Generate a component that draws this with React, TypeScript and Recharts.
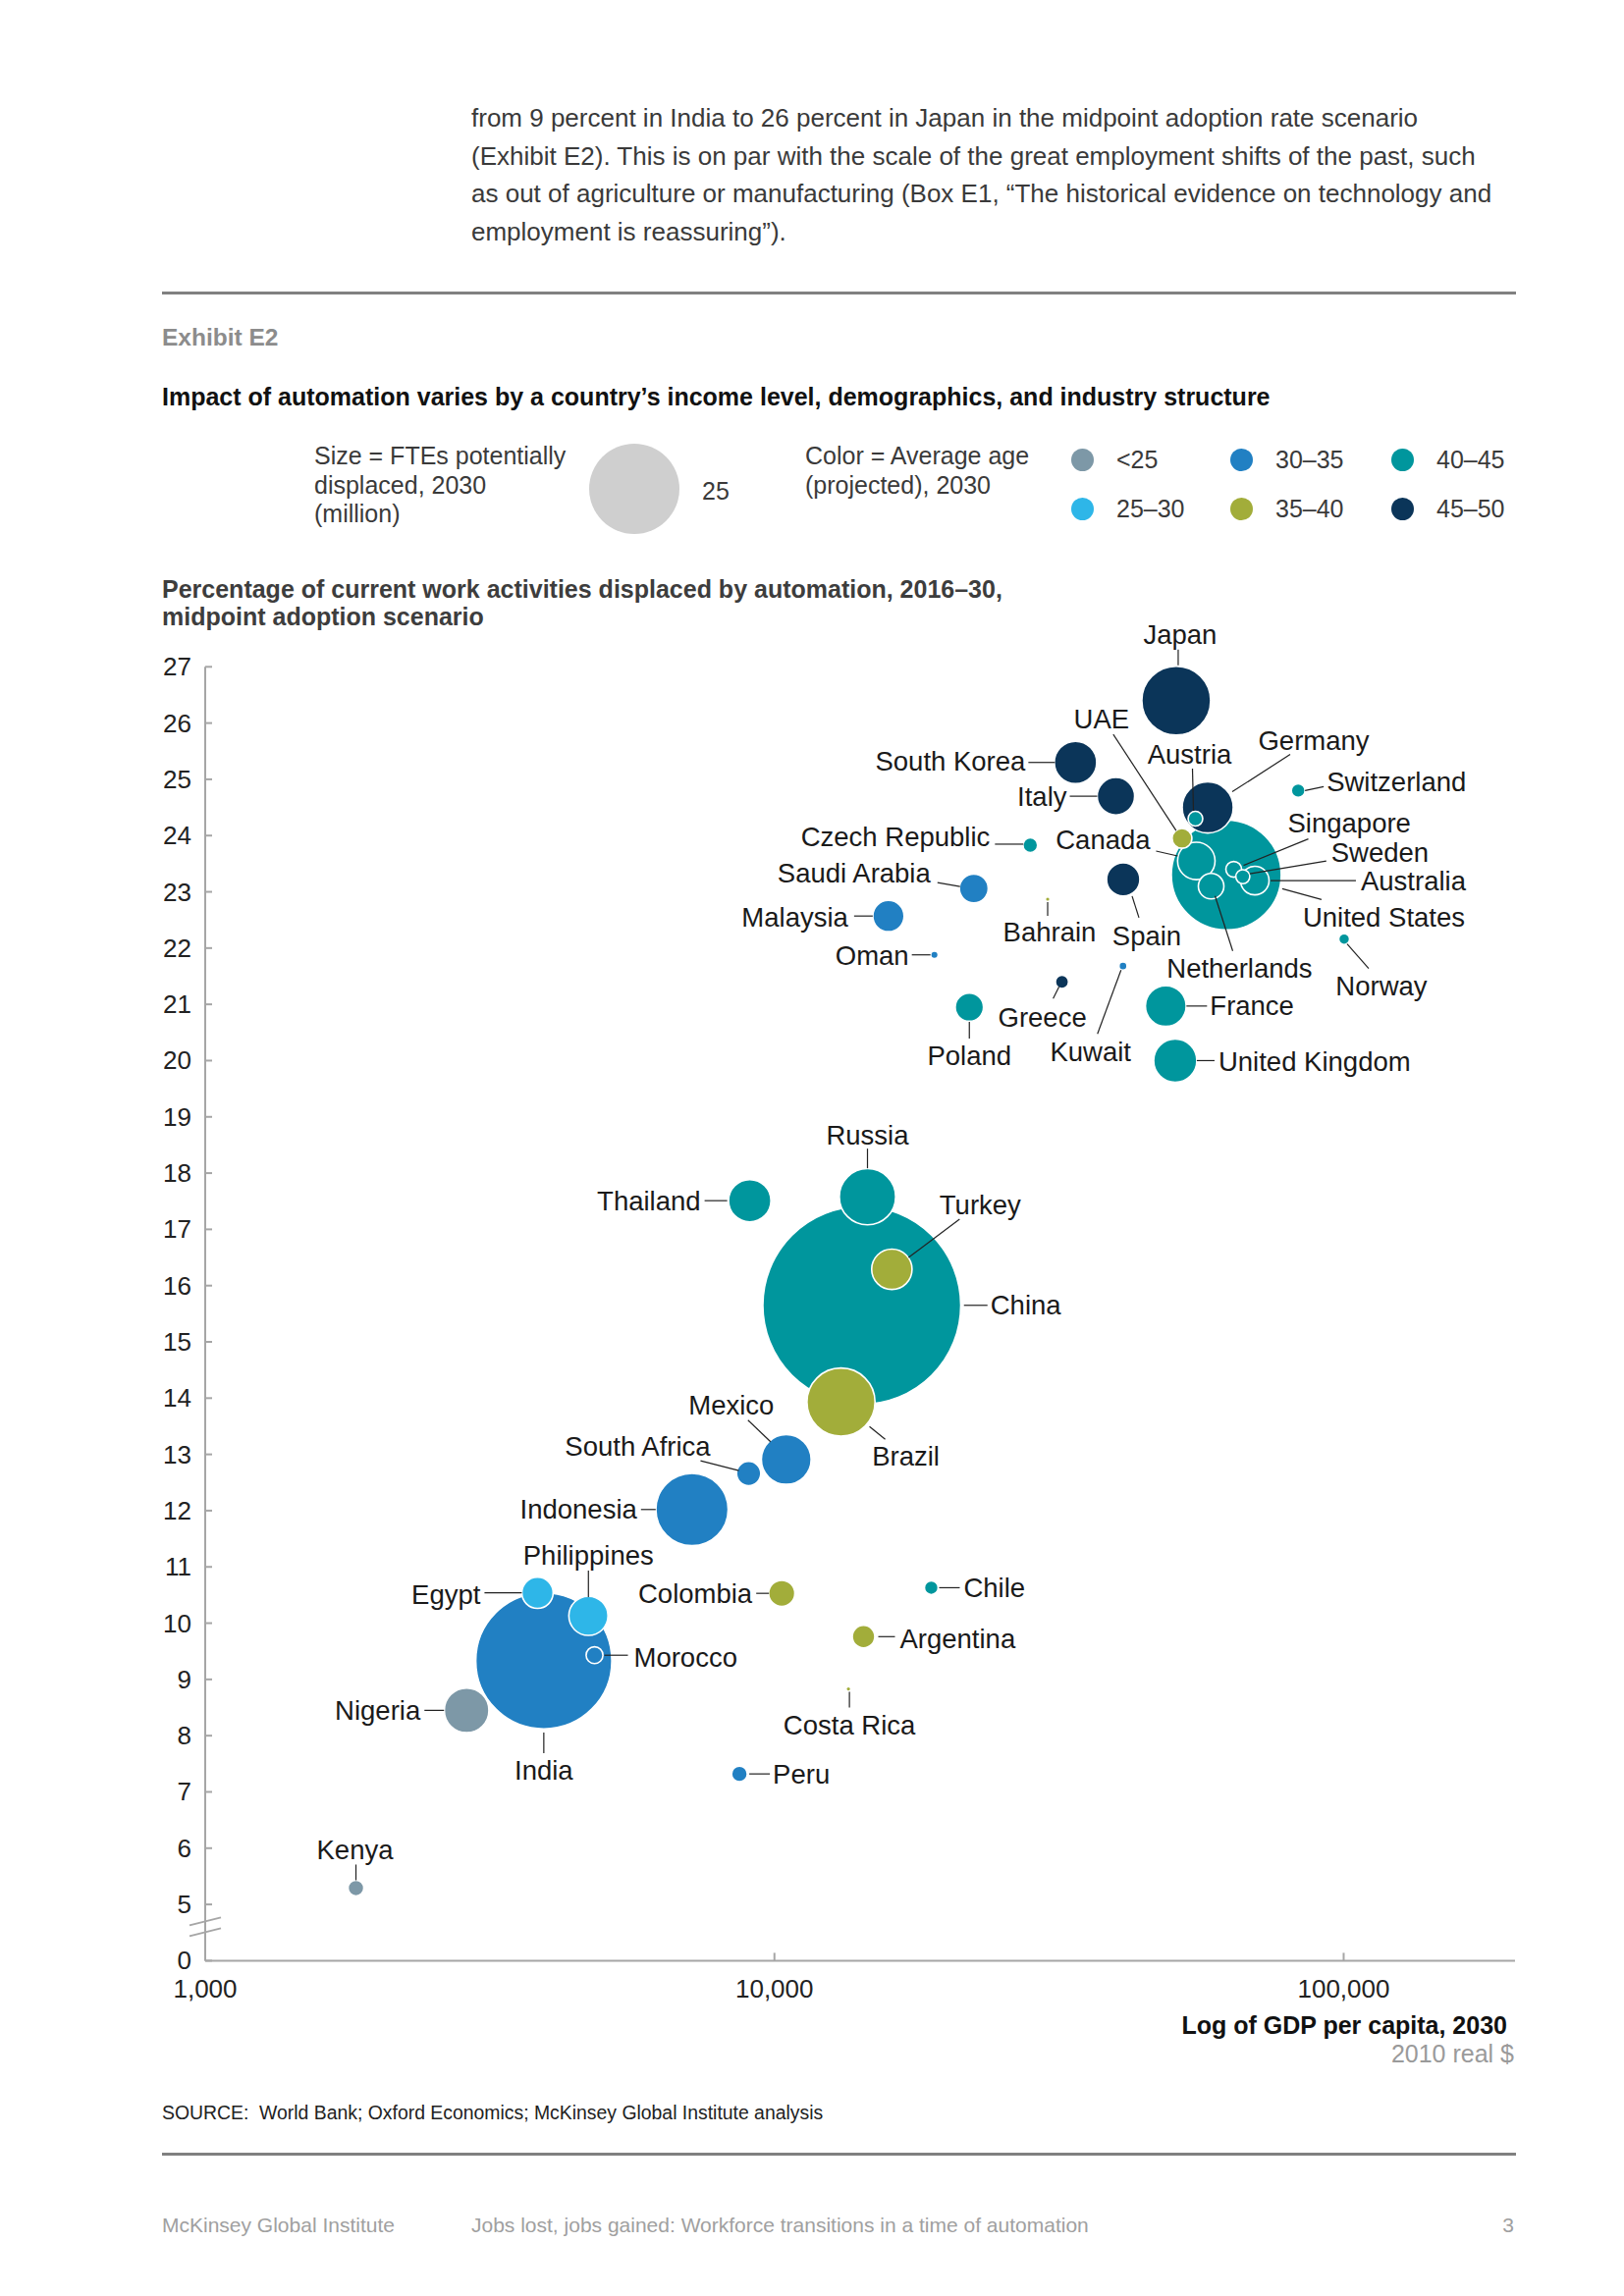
import React from 'react';
import { ScatterChart, Scatter, XAxis, YAxis, ZAxis } from 'recharts';

const COUNTRIES = [
  'Japan', 'South Korea', 'Italy', 'Germany', 'Austria', 'UAE', 'United States', 'Canada',
  'Netherlands', 'Singapore', 'Sweden', 'Australia', 'Switzerland', 'Czech Republic',
  'Saudi Arabia', 'Malaysia', 'Bahrain', 'Spain', 'Oman', 'Greece', 'Kuwait', 'Norway',
  'Poland', 'France', 'United Kingdom', 'Thailand', 'Russia', 'China', 'Turkey', 'Brazil',
  'Mexico', 'South Africa', 'Indonesia', 'Egypt', 'Philippines', 'India', 'Morocco',
  'Nigeria', 'Kenya', 'Colombia', 'Chile', 'Argentina', 'Costa Rica', 'Peru',
];

// GDP per capita 2030, 2010 real $
const GDP_PER_CAPITA = [
  50800, 33800, 39800, 57700, 54900, 52000, 62200, 55100,
  58500, 64100, 66500, 69800, 83200, 28150,
  22400, 15860, 30200, 41000, 19100, 32000, 40960, 100200,
  22000, 48700, 50600, 9050, 14570, 14240, 16080, 13090,
  10490, 9010, 7165, 3835, 4712, 3934, 4830,
  2879, 1840, 10300, 18860, 14340, 13490, 8680,
];

// % of current work activities displaced, 2016-30
const DISPLACED_PCT = [
  26.4, 25.3, 24.7, 24.5, 24.3, 23.95, 23.3, 23.55,
  23.1, 23.4, 23.27, 23.2, 24.8, 23.83,
  23.06, 22.57, 22.87, 23.22, 21.88, 21.4, 21.68, 22.16,
  20.95, 20.97, 20.0, 17.51, 17.58, 15.65, 16.29, 13.93,
  12.91, 12.66, 12.02, 10.54, 10.13, 9.33, 9.43,
  8.45, 5.29, 10.53, 10.63, 9.76, 8.83, 7.32,
];

// FTEs potentially displaced, 2030 (million)
const FTES_MILLION = [
  14.5, 5.5, 4.3, 8.0, 0.66, 1.2, 37, 4.3,
  2.0, 0.76, 0.6, 2.5, 0.58, 0.66,
  2.55, 3.0, 0.03, 3.4, 0.11, 0.53, 0.2, 0.36,
  2.45, 5.1, 5.7, 5.5, 9.7, 120, 5.0, 14.2,
  7.6, 1.8, 16.0, 3.0, 4.7, 56.7, 0.87,
  6.1, 0.76, 2.1, 0.58, 1.56, 0.03, 0.76,
];

// average age band (projected), 2030
const AVG_AGE = [
  '45–50', '45–50', '45–50', '45–50', '40–45', '35–40', '40–45', '40–45',
  '40–45', '40–45', '40–45', '40–45', '40–45', '40–45',
  '30–35', '30–35', '35–40', '45–50', '30–35', '45–50', '30–35', '40–45',
  '40–45', '40–45', '40–45', '40–45', '40–45', '40–45', '35–40', '35–40',
  '30–35', '30–35', '30–35', '25–30', '25–30', '30–35', '30–35',
  '<25', '<25', '35–40', '40–45', '35–40', '35–40', '30–35',
];

const LEGEND_BAND_ORDER = ['<25', '30–35', '40–45', '25–30', '35–40', '45–50'];
const LEGEND_SIZE = 25;

const X_TICKS = [1000, 10000, 100000];
const Y_TICKS = [4, 5, 6, 7, 8, 9, 10, 11, 12, 13, 14, 15, 16, 17, 18, 19, 20, 21, 22, 23, 24, 25, 26, 27];
const Y_TICK_LABELS: Record<number, string> = { 4: '0' };

// ---- styling ----
const AGE_COLORS: Record<string, string> = {
  '<25': '#7D98A7',
  '25–30': '#2EB6E8',
  '30–35': '#2180C3',
  '35–40': '#A2AD3A',
  '40–45': '#00969D',
  '45–50': '#0B3559',
};
const AXIS = '#A6A6A6';
const FONT = '"Liberation Sans", Arial, Helvetica, sans-serif';
const LEGEND_R = 46; // px radius of the 25 million legend bubble
const AREA_PER_MILLION = (Math.PI * LEGEND_R * LEGEND_R) / LEGEND_SIZE;

// label placement relative to bubble centre: anchor, text x/y, leader line
type Lay = { a: 'start' | 'middle' | 'end'; tx: number; ty: number; l?: [number, number, number, number] };
const LABEL_LAYOUT: Record<string, Lay> = {
  Japan: { a: 'middle', tx: 4, ty: -67, l: [2, -52, 2, -36] },
  UAE: { a: 'middle', tx: -82, ty: -122, l: [-70, -106, -6, -8] },
  'South Korea': { a: 'end', tx: -51, ty: -1, l: [-48, 0, -21, 0] },
  Italy: { a: 'end', tx: -50, ty: 0, l: [-47, 0, -19, 0] },
  Austria: { a: 'middle', tx: -6, ty: -66, l: [-3, -51, -2, -8] },
  Germany: { a: 'middle', tx: 108, ty: -68, l: [84, -54, 25, -16] },
  Switzerland: { a: 'start', tx: 29, ty: -9, l: [7, 0, 26, -4] },
  'Czech Republic': { a: 'end', tx: -41, ty: -8, l: [-36, -1, -7, -1] },
  Canada: { a: 'middle', tx: -95, ty: -22, l: [-41, -10, -19, -5] },
  'Saudi Arabia': { a: 'end', tx: -44, ty: -16, l: [-37, -6, -14, -2] },
  Malaysia: { a: 'end', tx: -41, ty: 1, l: [-35, 0, -16, 0] },
  Bahrain: { a: 'middle', tx: 2, ty: 34, l: [0, 3, 0, 17] },
  Spain: { a: 'middle', tx: 24, ty: 58, l: [9, 17, 16, 39] },
  'United States': { a: 'start', tx: 78, ty: 43, l: [57, 14, 97, 25] },
  Netherlands: { a: 'middle', tx: 29, ty: 84, l: [4, 10, 22, 66] },
  Singapore: { a: 'start', tx: 55, ty: -47, l: [76, -31, 10, -4] },
  Sweden: { a: 'start', tx: 90, ty: -25, l: [85, -16, 7, -3] },
  Australia: { a: 'start', tx: 108, ty: 0, l: [16, 0, 103, 0] },
  Norway: { a: 'middle', tx: 38, ty: 48, l: [3, 5, 25, 30] },
  Oman: { a: 'end', tx: -26, ty: 1, l: [-23, 0, -4, 0] },
  Greece: { a: 'middle', tx: -20, ty: 36, l: [-3, 5, -9, 17] },
  Kuwait: { a: 'middle', tx: -33, ty: 87, l: [-2, 4, -26, 69] },
  Poland: { a: 'middle', tx: 0, ty: 49, l: [0, 15, 0, 32] },
  France: { a: 'start', tx: 45, ty: 0, l: [21, 0, 42, 0] },
  'United Kingdom': { a: 'start', tx: 44, ty: 1, l: [22, 0, 40, 0] },
  Thailand: { a: 'end', tx: -50, ty: 0, l: [-46, 0, -23, 0] },
  Russia: { a: 'middle', tx: 0, ty: -63, l: [0, -49, 0, -29] },
  Turkey: { a: 'middle', tx: 90, ty: -66, l: [69, -51, 17, -12] },
  China: { a: 'start', tx: 131, ty: 0, l: [104, 0, 128, 0] },
  Brazil: { a: 'middle', tx: 66, ty: 55, l: [29, 25, 45, 38] },
  Mexico: { a: 'middle', tx: -56, ty: -55, l: [-39, -40, -16, -18] },
  'South Africa': { a: 'middle', tx: -113, ty: -28, l: [-49, -13, -10, -3] },
  Indonesia: { a: 'end', tx: -56, ty: 0, l: [-52, 0, -37, 0] },
  Philippines: { a: 'middle', tx: 0, ty: -62, l: [0, -46, 0, -19] },
  Egypt: { a: 'end', tx: -58, ty: 2, l: [-54, 0, -16, 0] },
  Morocco: { a: 'start', tx: 40, ty: 2, l: [10, 0, 34, 0] },
  Nigeria: { a: 'end', tx: -47, ty: 0, l: [-43, 0, -23, 0] },
  India: { a: 'middle', tx: 0, ty: 112, l: [0, 73, 0, 94] },
  Kenya: { a: 'middle', tx: -1, ty: -39, l: [0, -24, 0, -8] },
  Colombia: { a: 'end', tx: -30, ty: 0, l: [-26, 0, -13, 0] },
  Chile: { a: 'start', tx: 33, ty: 0, l: [8, 0, 29, 0] },
  Argentina: { a: 'start', tx: 37, ty: 2, l: [15, 0, 32, 0] },
  'Costa Rica': { a: 'middle', tx: 1, ty: 37, l: [1, 3, 1, 19] },
  Peru: { a: 'start', tx: 34, ty: 0, l: [10, 0, 31, 0] },
};

const rows = COUNTRIES.map((name, i) => ({
  name,
  gdp: GDP_PER_CAPITA[i],
  pct: DISPLACED_PCT[i],
  fte: FTES_MILLION[i],
  age: AVG_AGE[i],
})).sort((a, b) => b.fte - a.fte); // big bubbles underneath

const Bubble = (props: any) => {
  const { cx, cy, size, width, payload } = props;
  const r = width ? width / 2 : Math.sqrt(Math.max(size || 0, 0) / Math.PI);
  return (
    <circle
      cx={cx}
      cy={cy}
      r={Math.max(r, 1.4)}
      fill={AGE_COLORS[payload.age]}
      stroke={r > 4 ? '#fff' : 'none'}
      strokeWidth={1.6}
    />
  );
};

const CountryLabel = (props: any) => {
  const { cx, cy, payload } = props;
  const lay = LABEL_LAYOUT[payload.name];
  if (!lay) return <g />;
  return (
    <g>
      {lay.l && (
        <line
          x1={cx + lay.l[0]}
          y1={cy + lay.l[1]}
          x2={cx + lay.l[2]}
          y2={cy + lay.l[3]}
          stroke="#222"
          strokeWidth={1.2}
        />
      )}
      <text
        x={cx + lay.tx}
        y={cy + lay.ty}
        textAnchor={lay.a}
        dominantBaseline="central"
        fontFamily={FONT}
        fontSize={27.5}
        fill="#1a1a1a"
      >
        {payload.name}
      </text>
    </g>
  );
};

const YTick = (props: any) => {
  const { x, y, payload } = props;
  const v = payload.value;
  const label = Y_TICK_LABELS[v] ?? String(v);
  return (
    <g>
      <line x1={x} y1={y} x2={x + 7} y2={y} stroke={AXIS} strokeWidth={2} />
      <text x={x - 14} y={y} textAnchor="end" dominantBaseline="central" fontFamily={FONT} fontSize={26} fill="#222">
        {label}
      </text>
      {v === 4 && (
        <g stroke={AXIS} strokeWidth={2}>
          <line x1={x - 16} y1={y - 36} x2={x + 16} y2={y - 44} />
          <line x1={x - 16} y1={y - 25} x2={x + 16} y2={y - 33} />
        </g>
      )}
    </g>
  );
};

const XTick = (props: any) => {
  const { x, y, payload } = props;
  return (
    <g>
      <line x1={x} y1={y} x2={x} y2={y - 8} stroke={AXIS} strokeWidth={2} />
      <text x={x} y={y + 29} textAnchor="middle" dominantBaseline="central" fontFamily={FONT} fontSize={26} fill="#222">
        {Number(payload.value).toLocaleString('en-US')}
      </text>
    </g>
  );
};

type TxtProps = {
  x: number;
  y: number;
  size: number;
  children: React.ReactNode;
  color?: string;
  bold?: boolean;
  align?: 'left' | 'right';
};
const Txt = ({ x, y, size, children, color = '#3a3a3a', bold, align = 'left' }: TxtProps) => (
  <div
    style={{
      position: 'absolute',
      top: y,
      ...(align === 'right' ? { right: 1654 - x, textAlign: 'right' } : { left: x }),
      transform: 'translateY(-50%)',
      fontSize: size,
      lineHeight: 1.15,
      fontWeight: bold ? 700 : 400,
      color,
      whiteSpace: 'nowrap',
    }}
  >
    {children}
  </div>
);

const Rule = ({ y }: { y: number }) => (
  <div style={{ position: 'absolute', left: 165, top: y - 1.5, width: 1379, height: 3, background: '#808080' }} />
);

const Dot = ({ x, y, r, color }: { x: number; y: number; r: number; color: string }) => (
  <div
    style={{
      position: 'absolute',
      left: x - r,
      top: y - r,
      width: 2 * r,
      height: 2 * r,
      borderRadius: '50%',
      background: color,
    }}
  />
);

const BODY = [
  'from 9 percent in India to 26 percent in Japan in the midpoint adoption rate scenario',
  '(Exhibit E2). This is on par with the scale of the great employment shifts of the past, such',
  'as out of agriculture or manufacturing (Box E1, \u201cThe historical evidence on technology and',
  'employment is reassuring\u201d).',
];

export default function App() {
  const legendCols = [1102, 1264, 1428];
  const legendRows = [468, 518];
  return (
    <div
      style={{
        position: 'absolute',
        left: 0,
        top: 0,
        width: 1654,
        height: 2339,
        background: '#fff',
        fontFamily: FONT,
        overflow: 'hidden',
      }}
    >
      {BODY.map((line, i) => (
        <Txt key={i} x={480} y={121 + i * 38.7} size={26} color="#3a3a3a">
          {line}
        </Txt>
      ))}
      <Rule y={298} />
      <Txt x={165} y={344} size={24.5} bold color="#8c8c8c">
        Exhibit E2
      </Txt>
      <Txt x={165} y={404} size={25} bold color="#111">
        Impact of automation varies by a country’s income level, demographics, and industry structure
      </Txt>

      {/* size legend */}
      <Txt x={320} y={464} size={25}>Size = FTEs potentially</Txt>
      <Txt x={320} y={494} size={25}>displaced, 2030</Txt>
      <Txt x={320} y={523} size={25}>(million)</Txt>
      <Dot x={646} y={498} r={LEGEND_R} color="#CFCFCF" />
      <Txt x={715} y={500} size={25}>{LEGEND_SIZE}</Txt>

      {/* colour legend */}
      <Txt x={820} y={464} size={25}>Color = Average age</Txt>
      <Txt x={820} y={494} size={25}>(projected), 2030</Txt>
      {LEGEND_BAND_ORDER.map((band, i) => {
        const cx = legendCols[i % 3];
        const cy = legendRows[Math.floor(i / 3)];
        return (
          <React.Fragment key={band}>
            <Dot x={cx} y={cy} r={11.5} color={AGE_COLORS[band]} />
            <Txt x={cx + 35} y={cy} size={25}>
              {band}
            </Txt>
          </React.Fragment>
        );
      })}

      <Txt x={165} y={600} size={25} bold color="#3d3d3d">
        Percentage of current work activities displaced by automation, 2016–30,
      </Txt>
      <Txt x={165} y={628} size={25} bold color="#3d3d3d">
        midpoint adoption scenario
      </Txt>

      <div style={{ position: 'absolute', left: 0, top: 0 }}>
        <ScatterChart width={1654} height={2100} margin={{ top: 679.3, right: 111, bottom: 42.6, left: 149 }}>
          <XAxis
            type="number"
            dataKey="gdp"
            scale="log"
            domain={[1000, 200000]}
            ticks={X_TICKS}
            interval={0}
            height={60}
            axisLine={{ stroke: AXIS, strokeWidth: 2 }}
            tickLine={false}
            tickSize={0}
            tickMargin={0}
            tick={(p: any) => <XTick {...p} />}
          />
          <YAxis
            type="number"
            dataKey="pct"
            domain={[4, 27]}
            ticks={Y_TICKS}
            interval={0}
            width={60}
            axisLine={{ stroke: AXIS, strokeWidth: 2 }}
            tickLine={false}
            tickSize={0}
            tickMargin={0}
            tick={(p: any) => <YTick {...p} />}
          />
          <ZAxis type="number" dataKey="fte" domain={[0, 150]} range={[0, 150 * AREA_PER_MILLION]} />
          <Scatter data={rows} isAnimationActive={false} shape={(p: any) => <Bubble {...p} />} />
          <Scatter data={rows} isAnimationActive={false} shape={(p: any) => <CountryLabel {...p} />} />
        </ScatterChart>
      </div>

      <Txt x={1535} y={2063} size={25} bold color="#111" align="right">
        Log of GDP per capita, 2030
      </Txt>
      <Txt x={1542} y={2092} size={25} color="#9a9a9a" align="right">
        2010 real $
      </Txt>

      <Txt x={165} y={2152} size={19.4} color="#222">
        SOURCE:&nbsp; World Bank; Oxford Economics; McKinsey Global Institute analysis
      </Txt>
      <Rule y={2194} />

      <Txt x={165} y={2267} size={21} color="#a0a0a0">
        McKinsey Global Institute
      </Txt>
      <Txt x={480} y={2267} size={21} color="#a0a0a0">
        Jobs lost, jobs gained: Workforce transitions in a time of automation
      </Txt>
      <Txt x={1542} y={2267} size={21} color="#a0a0a0" align="right">
        3
      </Txt>
    </div>
  );
}
